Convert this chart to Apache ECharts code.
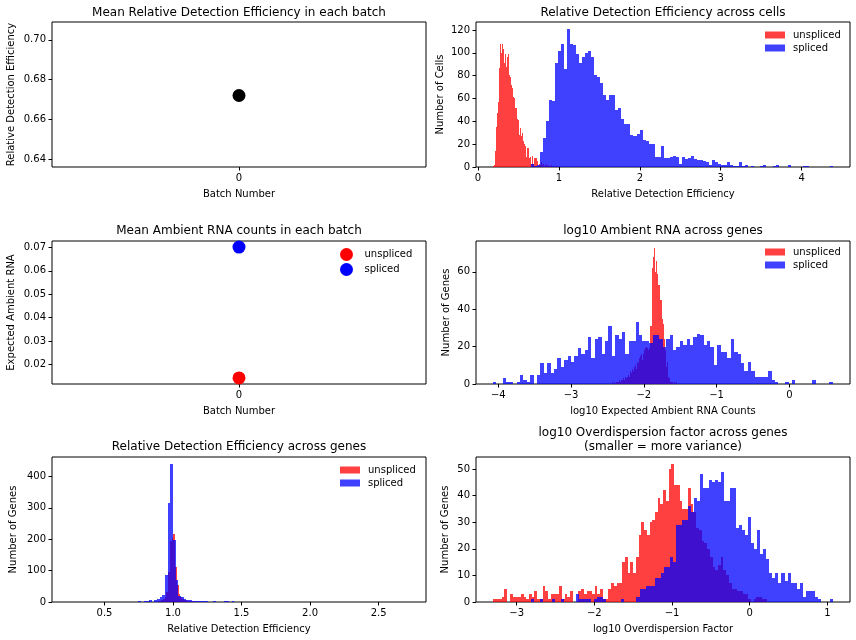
<!DOCTYPE html>
<html>
<head>
<meta charset="utf-8">
<title>Detection efficiency, ambient RNA and overdispersion</title>
<script src="https://cdn.jsdelivr.net/npm/echarts@6/dist/echarts.min.js"></script>
<style>
  html, body { margin: 0; padding: 0; background: #fff; }
  #chart { width: 856px; height: 640px; }
</style>
</head>
<body>
<div id="chart"></div>
<script>
// ---------- values ----------
const batches = [0];
const meanEfficiency = [0.672];
const meanAmbientUnspliced = [0.0143];
const meanAmbientSpliced = [0.0701];

// histograms: first bin edge, bin width, counts per bin
const cellEffUnsplicedStart = 0.186, cellEffUnsplicedWidth = 0.01237;
const cellEffUnspliced = [1,2,14,35,47,57,87,108,100,108,103,91,99,88,96,99,81,79,72,69,61,60,52,52,42,41,28,34,27,30,23,20,18,9,17,17,8,9,3,10,3,8,8,8,5,1,3,2,4,2,3,1,2,3,1,2,1,1,2,0,1,0,1,1,0,0,0,0,0,0,0,1,0,0,0,0,0,0,0,0,0,0,0,1];
const cellEffSplicedStart = 0.652, cellEffSplicedWidth = 0.03735;
const cellEffSpliced = [3,1,2,13,25,40,59,58,91,102,108,86,121,108,107,99,91,96,100,102,96,81,79,74,63,59,63,63,50,52,42,38,38,28,27,29,32,24,23,20,20,9,9,18,8,8,9,10,9,3,9,7,8,10,7,6,6,5,4,2,6,4,3,2,2,4,2,1,1,4,1,2,0,1,0,0,1,2,0,0,1,2,0,0,0,2,0,0,0,0,1,1,0,0,0,0,0,0,0,1];

const ambientUnsplicedStart = -2.442, ambientUnsplicedWidth = 0.013746;
const ambientUnspliced = [1,0,1,0,1,1,1,2,1,2,2,3,2,4,3,4,5,4,7,6,8,7,9,10,8,12,11,14,15,16,13,16,18,19,20,19,18,19,31,31,62,68,73,60,66,59,53,53,45,45,35,32,24,18,9,12,4,3,1,1,1,0,1,0,1];
const ambientSplicedStart = -4.077, ambientSplicedWidth = 0.04674;
const ambientSpliced = [1,0,0,3,1,1,0,1,5,2,1,5,0,5,11,6,11,6,8,14,9,13,15,12,15,19,16,18,25,14,24,25,16,23,31,15,26,24,28,16,23,23,33,26,23,23,22,26,26,24,20,24,26,18,20,23,21,24,21,25,27,26,21,23,20,10,21,17,17,14,24,17,16,11,7,12,7,4,4,4,4,7,2,1,0,0,1,0,2,0,0,0,0,0,2,0,0,0,0,1];

const geneEffUnsplicedStart = 0.235, geneEffUnsplicedWidth = 0.0128;
const geneEffUnspliced = [1,0,0,0,0,0,0,0,0,0,0,0,0,0,0,0,0,0,0,0,0,0,0,0,0,0,0,0,1,0,0,0,0,0,0,0,1,0,0,0,0,0,0,0,0,0,0,0,1,0,1,2,3,5,8,15,33,97,195,205,216,113,55,25,15,10,7,5,4,3,2,2,1,1,0,1,0,0,1,0,0,0,0,0,1,0,0,0,0,1,0,0,0,0,0,0,0,0,1];
const geneEffSplicedStart = 0.746, geneEffSplicedWidth = 0.0195;
const geneEffSpliced = [3,1,3,2,5,1,5,10,15,22,86,315,440,198,70,19,16,10,6,5,3,4,3,3,2,2,1,0,2,1,0,1,2,2,1,2,0,1,1,1,0,0,1,0,1,1,1,0,1,1,0,0,0,1,0,0,1,0,0,0,1,0,0,0,0,0,1,0,0,0,1,0,0,1,0,0,0,0,0,0,1,0,0,0,0,0,0,1,0,0,0,0,0,1,0,0,0,0,0,1];

const dispUnsplicedStart = -3.30, dispUnsplicedWidth = 0.03527;
const dispUnspliced = [1,1,1,2,5,0,3,2,2,2,3,2,1,3,2,4,1,1,6,4,1,3,3,3,6,1,3,2,4,0,0,4,5,3,4,4,3,6,3,5,1,1,5,7,6,7,7,15,17,11,15,11,17,25,30,27,25,30,31,34,39,37,42,38,50,52,44,44,38,35,35,43,37,34,28,27,23,22,20,17,13,12,14,17,12,10,7,5,5,4,4,3,3,1,0,1,2,2,1,1];
const dispSplicedStart = -2.819, dispSplicedWidth = 0.0389;
const dispSpliced = [1,0,0,1,0,0,0,1,0,0,1,0,0,0,0,3,1,1,1,1,0,1,2,2,1,0,0,0,0,0,1,0,0,0,0,2,5,5,6,6,6,9,9,11,13,13,17,15,29,29,31,31,36,34,39,38,48,43,43,46,45,46,45,49,38,38,43,43,28,29,27,25,32,22,20,27,18,20,16,11,9,11,7,11,8,11,7,7,5,7,2,4,4,4,2,1,0,0,0,1];

// tick values
const batchTicks = [0];
const effMeanTicks = [0.64, 0.66, 0.68, 0.70];
const ambientMeanTicks = [0.02, 0.03, 0.04, 0.05, 0.06, 0.07];
const cellEffXTicks = [0, 1, 2, 3, 4];
const cellCountTicks = [0, 20, 40, 60, 80, 100, 120];
const ambientXTicks = [-4, -3, -2, -1, 0];
const ambientCountTicks = [0, 20, 40, 60];
const geneEffXTicks = [0.5, 1.0, 1.5, 2.0, 2.5];
const geneEffCountTicks = [0, 100, 200, 300, 400];
const dispXTicks = [-3, -2, -1, 0, 1];
const dispCountTicks = [0, 10, 20, 30, 40, 50];

// ---------- chart ----------
const RED = 'rgba(255,0,0,0.75)';
const BLUE = 'rgba(0,0,255,0.75)';
const FONT = 'DejaVu Sans';

function toBins(start, width, counts) {
  return counts.map((c, i) => [start + i * width, start + (i + 1) * width, c]);
}

function hist(name, idx, bins, color) {
  return {
    type: 'custom', name: name, xAxisIndex: idx, yAxisIndex: idx,
    data: bins, encode: { x: [0, 1], y: 2 }, silent: true,
    renderItem: function (params, api) {
      const a = api.coord([api.value(0), api.value(2)]);
      const b = api.coord([api.value(1), 0]);
      const x0 = Math.round(a[0]), x1 = Math.round(b[0]);
      const y0 = Math.round(a[1]), y1 = Math.round(b[1]);
      return { type: 'rect', shape: { x: x0, y: y0, width: x1 - x0, height: y1 - y0 }, style: { fill: color } };
    }
  };
}

const minus = v => String(v).replace('-', '\u2212');

function axis(idx, min, max, ticks, fmt, name, gap) {
  return {
    type: 'value', gridIndex: idx, min: min, max: max,
    name: name, nameLocation: 'middle', nameGap: gap,
    nameTextStyle: { fontFamily: FONT, fontSize: 10, color: '#000' },
    axisLine: { show: false, onZero: false },
    axisTick: { show: true, length: 3.5, customValues: ticks, lineStyle: { color: '#000', width: 1 } },
    axisLabel: { customValues: ticks, formatter: fmt, margin: 6, fontFamily: FONT, fontSize: 10, color: '#000' },
    splitLine: { show: false }
  };
}

const gridBox = [
  [52, 22, 374, 145], [476, 22, 374, 145],
  [52, 241, 374, 143], [476, 241, 374, 143],
  [52, 457, 374, 145], [476, 457, 374, 145]
];

function title(text, x, y) {
  return { text: text, left: x, top: y, textAlign: 'center', padding: 0,
    textStyle: { fontFamily: FONT, fontSize: 12, fontWeight: 'normal', color: '#000', lineHeight: 14 } };
}

function legend(left, top, items, w, h, gap) {
  return { left: left, top: top, orient: 'vertical', itemWidth: w, itemHeight: h, itemGap: gap,
    selectedMode: false, padding: 0, data: items,
    textStyle: { fontFamily: FONT, fontSize: 10, color: '#000', padding: [0, 0, 0, 3] } };
}
const patchItems = [
  { name: 'unspliced', icon: 'rect', itemStyle: { color: RED } },
  { name: 'spliced', icon: 'rect', itemStyle: { color: BLUE } }
];
const dotItems = [
  { name: 'unspliced', icon: 'circle', itemStyle: { color: '#ff0000' } },
  { name: 'spliced', icon: 'circle', itemStyle: { color: '#0000ff' } }
];

const chart = echarts.init(document.getElementById('chart'));
chart.setOption({
  animation: false,
  backgroundColor: '#fff',
  title: [
    title('Mean Relative Detection Efficiency in each batch', 239, 6),
    title('Relative Detection Efficiency across cells', 663, 6),
    title('Mean Ambient RNA counts in each batch', 239, 224),
    title('log10 Ambient RNA across genes', 663, 224),
    title('Relative Detection Efficiency across genes', 239, 440),
    title('log10 Overdispersion factor across genes\n(smaller = more variance)', 663, 426)
  ],
  legend: [
    legend(765, 30, patchItems, 20, 7, 3),
    legend(340, 248, dotItems, 20, 13, 2),
    legend(765, 247, patchItems, 20, 7, 3),
    legend(340, 465, patchItems, 20, 7, 3)
  ],
  grid: gridBox.map(g => ({ left: g[0], top: g[1], width: g[2], height: g[3],
    show: true, borderColor: '#000', borderWidth: 1, backgroundColor: 'transparent' })),
  xAxis: [
    axis(0, -1, 1, batchTicks, v => String(v), 'Batch Number', 22),
    axis(1, -0.024, 4.597, cellEffXTicks, v => String(v), 'Relative Detection Efficiency', 22),
    axis(2, -1, 1, batchTicks, v => String(v), 'Batch Number', 22),
    axis(3, -4.307, 0.834, ambientXTicks, minus, 'log10 Expected Ambient RNA Counts', 22),
    axis(4, 0.117, 2.846, geneEffXTicks, v => v.toFixed(1), 'Relative Detection Efficiency', 22),
    axis(5, -3.524, 1.292, dispXTicks, minus, 'log10 Overdispersion Factor', 22)
  ],
  yAxis: [
    axis(0, 0.636, 0.709, effMeanTicks, v => v.toFixed(2), 'Relative Detection Efficiency', 36),
    axis(1, 0, 127, cellCountTicks, v => String(v), 'Number of Cells', 31),
    axis(2, 0.0117, 0.0727, ambientMeanTicks, v => v.toFixed(2), 'Expected Ambient RNA', 36),
    axis(3, 0, 76.5, ambientCountTicks, v => String(v), 'Number of Genes', 25),
    axis(4, 0, 462, geneEffCountTicks, v => String(v), 'Number of Genes', 34),
    axis(5, 0, 54.5, dispCountTicks, v => String(v), 'Number of Genes', 26)
  ],
  series: [
    { type: 'scatter', xAxisIndex: 0, yAxisIndex: 0, symbolSize: 13,
      data: batches.map((b, i) => [b, meanEfficiency[i]]), itemStyle: { color: '#000', opacity: 1 } },
    hist('unspliced', 1, toBins(cellEffUnsplicedStart, cellEffUnsplicedWidth, cellEffUnspliced), RED),
    hist('spliced', 1, toBins(cellEffSplicedStart, cellEffSplicedWidth, cellEffSpliced), BLUE),
    { type: 'scatter', name: 'unspliced', xAxisIndex: 2, yAxisIndex: 2, symbolSize: 13,
      data: batches.map((b, i) => [b, meanAmbientUnspliced[i]]), itemStyle: { color: '#ff0000', opacity: 1 } },
    { type: 'scatter', name: 'spliced', xAxisIndex: 2, yAxisIndex: 2, symbolSize: 13,
      data: batches.map((b, i) => [b, meanAmbientSpliced[i]]), itemStyle: { color: '#0000ff', opacity: 1 } },
    hist('unspliced', 3, toBins(ambientUnsplicedStart, ambientUnsplicedWidth, ambientUnspliced), RED),
    hist('spliced', 3, toBins(ambientSplicedStart, ambientSplicedWidth, ambientSpliced), BLUE),
    hist('unspliced', 4, toBins(geneEffUnsplicedStart, geneEffUnsplicedWidth, geneEffUnspliced), RED),
    hist('spliced', 4, toBins(geneEffSplicedStart, geneEffSplicedWidth, geneEffSpliced), BLUE),
    hist('unspliced', 5, toBins(dispUnsplicedStart, dispUnsplicedWidth, dispUnspliced), RED),
    hist('spliced', 5, toBins(dispSplicedStart, dispSplicedWidth, dispSpliced), BLUE)
  ]
});
</script>
</body>
</html>
